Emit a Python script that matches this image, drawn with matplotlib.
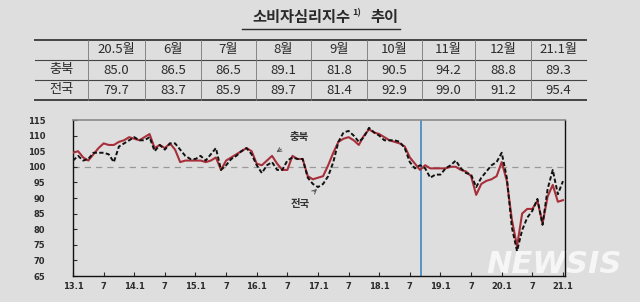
import numpy as np
import matplotlib
matplotlib.use("Agg")
import matplotlib.pyplot as plt

plt.rcParams['font.family'] = ['Noto Sans CJK KR', 'DejaVu Sans']

# table values (20.5 ~ 21.1)
TABLE_MONTHS = ["20.5월", "6월", "7월", "8월", "9월", "10월", "11월", "12월", "21.1월"]
TABLE_CB = [85.0, 86.5, 86.5, 89.1, 81.8, 90.5, 94.2, 88.8, 89.3]
TABLE_NAT = [79.7, 83.7, 85.9, 89.7, 81.4, 92.9, 99.0, 91.2, 95.4]

# monthly series 2013.1 ~ 2021.1
CB = [104.5, 105.0, 103.0, 102.0, 104.0, 106.0, 107.5, 107.0, 107.0, 108.0, 108.5, 109.5,   # 2013
      109.0, 108.5, 109.5, 110.5, 106.0, 107.0, 106.0, 107.5, 105.5, 101.5, 102.0, 102.0,   # 2014
      102.0, 102.0, 101.5, 102.0, 103.0, 99.0, 102.0, 103.0, 104.0, 105.0, 106.0, 105.0,    # 2015
      101.0, 100.5, 102.0, 103.5, 101.0, 99.0, 99.0, 103.5, 102.5, 102.5, 97.0, 96.0,       # 2016
      96.5, 97.0, 100.5, 104.5, 108.0, 109.0, 109.5, 108.5, 107.0, 110.0, 112.0, 111.0,     # 2017
      110.5, 109.5, 108.5, 108.0, 107.5, 106.5, 103.0, 101.0, 99.0, 100.5, 99.5, 99.5,      # 2018
      99.5, 99.5, 100.0, 100.0, 99.0, 98.5, 97.0, 91.0, 94.5, 95.5, 96.0, 97.0,             # 2019
      101.5, 95.5, 83.0, 74.5, 85.0, 86.5, 86.5, 89.1, 81.8, 90.5, 94.2, 88.8,              # 2020
      89.3]                                                                                 # 2021.1
NAT = [102.0, 103.5, 102.0, 102.5, 104.5, 104.5, 104.5, 104.0, 101.5, 106.5, 107.5, 108.5,
       109.5, 108.5, 108.5, 109.5, 105.0, 107.0, 105.5, 107.5, 107.5, 105.5, 103.5, 102.5,
       102.5, 103.5, 102.0, 104.0, 106.0, 99.0, 100.5, 102.5, 103.5, 105.0, 106.0, 104.0,
       100.5, 98.0, 100.5, 101.5, 99.0, 99.0, 102.0, 103.0, 102.5, 102.5, 96.5, 94.5,
       93.5, 94.5, 97.0, 101.5, 108.0, 111.0, 111.5, 110.0, 108.0, 109.5, 112.5, 111.0,
       110.0, 108.5, 108.5, 108.5, 108.0, 106.0, 101.5, 99.5, 100.5, 99.5, 96.5, 97.5,
       97.5, 99.5, 100.5, 102.0, 99.5, 98.0, 97.5, 93.5, 96.5, 98.5, 100.5, 101.5,
       104.5, 96.5, 80.5, 73.0, 79.7, 83.7, 85.9, 89.7, 81.4, 92.9, 99.0, 91.2,
       95.4]
XTICK_LABELS = ["13.1", "7", "14.1", "7", "15.1", "7", "16.1", "7", "17.1",
                "7", "18.1", "7", "19.1", "7", "20.1", "7", "21.1"]
CURSOR_X = 68.2   # blue vertical line in the screenshot

BG = "#dedede"
RED = "#a82f3a"
INK = "#2b2b2b"

fig = plt.figure(figsize=(6.4, 3.02), dpi=100, facecolor=BG)

# watermark, drawn underneath everything else
fig.text(0.865, 0.125, "NEWSIS", ha="center", va="center", fontsize=22,
         fontstyle="italic", fontweight="bold", color="white", alpha=0.75,
         family="DejaVu Sans", zorder=-5)

# overlay in pixel coords for title + table
ov = fig.add_axes([0, 0, 1, 1])
ov.set_xlim(0, 640); ov.set_ylim(302, 0); ov.axis("off")
ov.patch.set_alpha(0)

ov.text(350, 17, "소비자심리지수", ha="right", va="center", fontsize=11,
        fontweight="bold", color=INK)
ov.text(352, 13, "1)", ha="left", va="center", fontsize=6.5,
        fontweight="bold", color=INK)
ov.text(370, 17, "추이", ha="left", va="center", fontsize=11,
        fontweight="bold", color=INK)
ov.plot([242, 400], [29, 29], color=INK, lw=1.0)

col_edges = [35, 88, 145, 201, 256, 311, 367, 422, 475, 531, 586]
row_edges = [40, 60, 80, 100]
for i, y in enumerate(row_edges):
    lw = 1.4 if i in (0, len(row_edges) - 1) else 0.8
    ov.plot([col_edges[0], col_edges[-1]], [y, y], color="#444444", lw=lw)
for x in col_edges[1:-1]:
    ov.plot([x, x], [row_edges[0], row_edges[-1]], color="#777777", lw=0.6)

centers = [(a + b) / 2 for a, b in zip(col_edges[:-1], col_edges[1:])]
row_c = [(a + b) / 2 for a, b in zip(row_edges[:-1], row_edges[1:])]
for c, lab in zip(centers[1:], TABLE_MONTHS):
    ov.text(c, row_c[0], lab, ha="center", va="center", fontsize=9.5, color=INK)
ov.text(centers[0], row_c[1], "충북", ha="center", va="center", fontsize=9.5, color=INK)
ov.text(centers[0], row_c[2], "전국", ha="center", va="center", fontsize=9.5, color=INK)
for c, a, b in zip(centers[1:], TABLE_CB, TABLE_NAT):
    ov.text(c, row_c[1], f"{a:.1f}", ha="center", va="center", fontsize=9.5, color=INK)
    ov.text(c, row_c[2], f"{b:.1f}", ha="center", va="center", fontsize=9.5, color=INK)

# line chart
ax = fig.add_axes([73 / 640, 26 / 302, 492 / 640, 156 / 302])
ax.patch.set_alpha(0)
x = np.arange(len(CB))
ax.axhline(100, color="#999999", lw=0.9, ls=(0, (5, 4)), zorder=1)
ax.axvline(CURSOR_X, color="#4b8fc4", lw=1.3, zorder=2)
ax.plot(x, CB, color=RED, lw=1.5, zorder=3)
ax.plot(x, NAT, color="#111111", lw=1.4, ls=(0, (2.2, 1.2)), zorder=4)

ax.set_xlim(0, 96.4)
ax.set_ylim(65, 115)
ax.set_xticks(np.arange(0, 97, 6))
ax.set_xticklabels(XTICK_LABELS)
ax.set_yticks(np.arange(65, 116, 5))
ax.tick_params(axis="both", direction="in", length=3, width=0.8, colors=INK,
               labelsize=6)
ax.tick_params(axis="y", pad=20)
ax.tick_params(axis="x", pad=4)
for lab in ax.get_xticklabels() + ax.get_yticklabels():
    lab.set_fontfamily("DejaVu Sans")
    lab.set_fontweight("bold")
for side in ("left", "bottom", "right"):
    ax.spines[side].set_color("#111111")
    ax.spines[side].set_linewidth(1.0)
ax.spines["top"].set_color("#8a8a8a")
ax.spines["top"].set_linewidth(1.2)

ax.annotate("충북", xy=(39.4, 104.2), xytext=(44.3, 109.4), ha="center", va="center",
            fontsize=7.5, fontweight="bold", color="#333333",
            arrowprops=dict(arrowstyle="->", color="#555555", lw=0.7, shrinkA=5))
ax.annotate("전국", xy=(48.2, 93.5), xytext=(44.6, 88.0), ha="center", va="center",
            fontsize=7.5, fontweight="bold", color="#333333",
            arrowprops=dict(arrowstyle="->", color="#555555", lw=0.7, shrinkA=5))

fig.savefig("out.png", dpi=100, facecolor=BG)
